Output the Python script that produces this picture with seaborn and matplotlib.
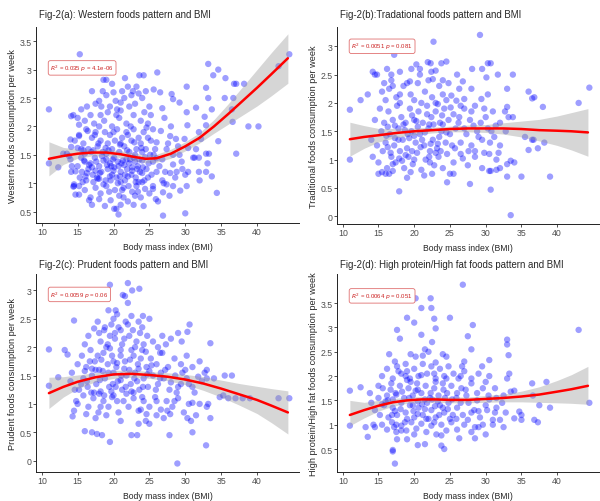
import matplotlib
matplotlib.use("Agg")
import matplotlib.pyplot as plt
import seaborn as sns

# ---- panel (a): Western foods ----
xa = [11.0, 11.0, 15.3, 18.6, 19.0, 21.6, 23.6, 24.2, 26.1, 25.6, 33.2, 34.6, 33.9, 35.6, 30.2, 32.9, 33.2, 35.5, 36.7, 36.8,
      37.1, 38.2, 36.5, 36.6, 38.8, 40.2, 37.1, 34.4, 34.6, 44.5, 43.0, 30.0, 26.9, 20.7, 20.1, 20.4, 24.2, 26.2,
      28.1, 28.3, 26.8, 27.1, 29.2, 30.2, 30.3, 31.5, 31.9, 32.2, 29.9, 28.7, 27.9, 26.6, 26.0, 27.4, 28.3, 29.2, 30.4, 31.5,
      31.9, 31.1, 29.5, 28.3, 27.2, 27.9, 28.8, 30.0, 30.4, 31.9, 32.9, 33.1, 32.9, 33.3, 33.7, 32.0, 30.2, 29.3, 28.3, 27.4,
      26.9, 27.8, 25.9, 26.8, 26.0, 25.5, 25.3, 25.5, 25.1, 26.0, 26.8, 32.9, 32.7, 33.7, 31.3,
      15.5, 16.3, 17.0, 17.5, 18.0, 18.2, 19.0, 19.5, 20.0, 20.5, 21.0, 21.5, 22.0, 22.5, 23.0, 23.5, 24.0, 24.5, 25.0, 16.0,
      17.3, 18.7, 19.8, 20.8, 21.8, 22.8, 23.8, 24.8, 16.8, 22.2, 19.2, 20.3, 23.2, 18.5, 15.0, 21.2, 24.3,
      15.2, 15.8, 16.2, 16.5, 17.0, 17.5, 17.8, 18.2, 18.5, 18.8, 19.2, 19.5, 19.8, 20.2, 20.5, 20.8, 21.2, 21.5, 21.8, 22.2,
      22.5, 22.8, 23.2, 23.5, 23.8, 24.2, 24.5, 24.8, 16.0, 17.2, 19.0, 20.0, 21.0, 22.0, 23.0, 24.0, 25.2, 25.5, 18.0, 15.5, 14.6,
      15.0, 15.3, 15.6, 15.9, 16.2, 16.5, 16.8, 17.1, 17.4, 17.7, 18.0, 18.3, 18.6, 18.9, 19.2, 19.5, 19.8, 20.1, 20.4, 20.7,
      21.0, 21.3, 21.6, 21.9, 22.2, 22.5, 22.8, 23.1, 23.4, 23.7, 24.0, 24.3, 24.6, 24.9, 16.0, 17.0, 18.0, 19.0, 20.0, 21.0,
      22.0, 23.0, 24.0, 15.5, 17.5, 19.5, 21.5, 23.5, 16.3, 18.4, 20.6, 22.6, 24.4, 19.7, 21.8, 23.3,
      15.2, 16.0, 16.8, 17.5, 18.2, 19.0, 19.6, 20.2, 20.8, 21.4, 22.0, 22.6, 23.2, 23.8, 24.4, 17.0, 18.8, 21.0, 22.8, 25.0,
      14.5, 25.5, 13.0, 13.5, 14.0, 14.1, 14.4, 14.1, 13.8, 14.2, 14.1, 14.5, 14.4, 14.7, 15.2, 14.0, 14.7, 15.0, 15.2, 15.2, 12.3]
ya = [2.30, 1.35, 3.27, 2.82, 2.82, 2.85, 2.90, 2.90, 2.95, 2.65, 3.10, 3.00, 2.90, 2.85, 2.70, 2.68, 2.50, 2.50, 2.50, 2.75,
      2.75, 2.75, 2.30, 2.08, 2.00, 2.00, 1.52, 0.83, 1.74, 3.27, 3.06, 0.47, 0.43, 0.45, 0.55, 0.55, 0.60, 0.68,
      2.57, 2.48, 2.32, 2.15, 2.42, 2.25, 2.02, 2.33, 1.90, 1.78, 1.78, 1.78, 1.83, 1.92, 1.72, 1.60, 1.50, 1.50, 1.62, 1.60,
      1.45, 1.45, 1.38, 1.33, 1.20, 1.18, 1.20, 1.15, 1.20, 1.20, 1.20, 1.35, 1.52, 1.52, 1.12, 1.05, 0.95, 0.87, 0.95, 0.98,
      0.84, 0.78, 0.72, 1.05, 1.20, 1.38, 1.15, 0.95, 1.50, 1.44, 1.42, 2.02, 2.17, 2.30, 1.45,
      2.30, 2.35, 2.62, 2.40, 2.45, 2.20, 2.55, 2.35, 2.60, 2.30, 2.28, 2.50, 2.70, 2.55, 2.40, 2.58, 2.50, 2.62, 2.35, 2.10,
      2.05, 2.10, 2.00, 2.15, 2.05, 2.20, 2.10, 2.05, 2.20, 2.35, 2.25, 2.45, 2.70, 2.62, 2.15, 2.62, 2.25,
      1.85, 1.70, 1.95, 1.60, 1.80, 1.90, 1.65, 1.75, 1.55, 1.90, 1.70, 1.85, 1.60, 1.75, 1.95, 1.55, 1.80, 1.65, 1.90, 1.55,
      1.75, 1.95, 1.60, 1.80, 1.70, 1.90, 1.60, 1.80, 1.52, 1.58, 1.52, 1.90, 1.70, 1.85, 1.50, 1.55, 1.75, 1.95, 2.00, 1.60, 1.75,
      1.30, 1.10, 1.20, 1.40, 1.05, 1.25, 1.35, 1.15, 1.45, 1.10, 1.30, 1.20, 1.40, 1.05, 1.25, 1.35, 1.15, 1.45, 1.10, 1.30,
      1.20, 1.40, 1.05, 1.25, 1.35, 1.15, 1.45, 1.10, 1.30, 1.20, 1.40, 1.05, 1.25, 1.35, 1.38, 1.28, 1.08, 1.42, 1.22, 1.02,
      1.12, 1.38, 1.18, 1.45, 1.22, 1.12, 1.32, 1.02, 1.18, 1.48, 1.38, 1.28, 1.46, 1.30, 1.42, 1.25,
      0.95, 0.88, 0.75, 0.92, 0.82, 0.95, 0.70, 0.88, 0.78, 0.92, 0.68, 0.85, 0.95, 0.75, 0.90, 0.62, 0.60, 0.62, 0.62, 0.82,
      0.95, 0.90, 1.52, 1.52, 1.77, 2.18, 2.20, 1.64, 1.48, 1.30, 1.20, 0.98, 0.94, 0.80, 0.80, 1.42, 1.21, 1.62, 1.83, 2.03, 1.28]
xa_more = [16.1, 16.6, 17.2, 17.6, 18.1, 18.6, 19.1, 19.6, 20.1, 20.6, 21.1, 21.6, 22.1, 22.6, 23.1, 23.6, 24.1, 16.9, 17.9, 18.9,
           19.9, 20.9, 21.9, 22.9, 23.9, 15.7, 19.4, 21.2, 23.4, 17.4, 20.4, 22.4, 18.3, 16.4, 24.6, 25.8, 26.4, 27.0, 27.6, 28.6,
           29.6, 29.0, 28.0, 26.5, 25.2, 19.8, 21.0, 22.7, 17.8, 20.9, 22.3, 19.3, 15.8, 16.6, 24.8, 21.4, 18.0, 23.0, 24.0, 25.6]
ya_more = [1.12, 1.32, 1.02, 1.38, 1.18, 0.98, 1.32, 1.05, 1.28, 1.00, 1.35, 1.15, 0.95, 1.22, 1.02, 1.42, 1.28, 1.55, 1.70, 1.62,
           1.42, 1.68, 1.58, 1.72, 1.62, 1.02, 0.85, 0.88, 0.85, 1.85, 2.20, 2.00, 2.35, 1.92, 1.98, 1.60, 1.30, 1.00, 1.70, 1.10,
           1.25, 1.65, 2.00, 2.60, 2.20, 2.75, 2.42, 2.62, 1.08, 1.12, 1.42, 1.58, 1.58, 0.70, 1.10, 0.75, 0.72, 0.78, 1.02, 1.50]
fit_xa = [11, 13, 15, 17, 19, 21, 23, 24.5, 26, 28, 30, 32, 34, 36, 38, 40, 42, 44.3]
fit_ya = [1.43, 1.48, 1.52, 1.54, 1.54, 1.51, 1.46, 1.43, 1.44, 1.52, 1.65, 1.80, 2.00, 2.22, 2.45, 2.68, 2.92, 3.20]
lo_a = [1.13, 1.33, 1.44, 1.48, 1.48, 1.45, 1.39, 1.36, 1.37, 1.44, 1.57, 1.71, 1.88, 2.04, 2.20, 2.36, 2.54, 2.76]
hi_a = [1.73, 1.63, 1.60, 1.60, 1.60, 1.57, 1.53, 1.50, 1.51, 1.60, 1.73, 1.89, 2.12, 2.40, 2.70, 3.00, 3.30, 3.63]

# ---- panel (b): Traditional foods ----
xb = [11.0, 11.0, 12.5, 13.5, 14.2, 14.5, 17.2, 22.7, 29.2, 30.3, 30.7, 33.8, 33.0, 36.0, 36.5, 36.8, 38.0, 43.0, 44.5, 39.0,
      35.0, 33.0, 30.7, 27.8, 17.9, 33.5, 36.5, 36.7, 37.3, 36.0, 35.5, 38.2, 33.2, 33.8, 32.7, 33.0, 34.0, 33.5, 33.0, 31.5,
      30.5, 30.7, 32.0, 24.6, 25.5, 15.0, 15.5, 16.0, 16.5,
      14.8, 16.2, 16.8, 18.0, 19.4, 20.3, 20.8, 21.9, 22.3, 22.6, 23.0, 23.8, 24.5, 24.0, 26.8, 28.0, 29.5, 30.1, 30.3, 29.4,
      31.7, 28.1, 26.3, 27.0, 25.9, 25.2,
      15.5, 16.5, 17.5, 18.5, 19.5, 20.5, 21.5, 22.5, 23.5, 24.5, 16.0, 18.0, 20.0, 22.0, 24.0, 19.0, 21.0, 23.0, 17.0,
      14.5, 15.2, 15.8, 16.4, 17.0, 17.6, 18.2, 18.8, 19.4, 20.0, 20.6, 21.2, 21.8, 22.4, 23.0, 23.6, 24.2, 24.8, 25.5, 26.2,
      27.0, 27.8, 28.5, 29.3, 30.0, 31.0, 32.0, 26.5, 28.0, 17.3, 19.7, 22.1, 23.3,
      14.0, 14.8, 15.4, 16.0, 16.6, 17.2, 17.8, 18.4, 19.0, 19.6, 20.2, 20.8, 21.4, 22.0, 22.6, 23.2, 23.8, 24.4, 25.0, 25.8,
      26.5, 27.3, 28.0, 28.8, 29.5, 30.3, 31.2, 32.0, 32.8, 16.3, 18.7, 21.1, 23.5, 25.3, 20.5, 19.3, 22.3,
      14.2, 15.0, 15.6, 16.2, 16.8, 17.4, 18.0, 18.6, 19.2, 19.8, 20.4, 21.0, 21.6, 22.2, 22.8, 23.4, 24.0, 24.6, 25.5, 26.5,
      27.5, 28.5, 29.5, 30.5, 31.5, 17.0, 19.5, 22.5, 20.0, 18.3, 23.7]
yb = [1.88, 1.00, 2.05, 2.15, 2.55, 2.50, 2.85, 3.08, 3.20, 2.70, 2.70, 2.50, 2.25, 2.20, 2.08, 2.10, 1.93, 2.00, 2.27, 0.70,
      0.70, 0.70, 0.47, 0.57, 0.44, 0.02, 1.35, 1.35, 1.20, 1.17, 1.40, 1.30, 1.75, 1.75, 1.85, 1.93, 0.95, 0.98, 0.92, 0.82,
      0.80, 0.80, 0.85, 0.60, 0.75, 0.75, 0.78, 0.75, 0.75,
      2.50, 2.60, 2.40, 2.55, 2.38, 2.68, 2.60, 2.72, 2.70, 2.42, 2.57, 2.70, 2.73, 2.40, 2.38, 2.25, 2.60, 2.45, 2.15, 2.07,
      2.50, 2.60, 2.25, 2.07, 2.04, 2.13,
      2.20, 2.25, 2.10, 2.30, 2.15, 2.35, 2.20, 2.10, 2.30, 2.05, 2.05, 2.00, 2.05, 2.40, 2.15, 2.35, 2.00, 2.00, 2.30,
      1.70, 1.90, 1.65, 1.85, 1.70, 1.95, 1.75, 1.65, 1.90, 1.70, 1.85, 1.65, 1.95, 1.75, 1.85, 1.65, 1.90, 1.70, 1.80, 1.65,
      1.90, 1.70, 1.95, 1.65, 1.75, 1.85, 1.65, 1.95, 1.85, 1.60, 1.78, 1.62, 1.98,
      1.35, 1.25, 1.50, 1.30, 1.45, 1.25, 1.55, 1.35, 1.20, 1.50, 1.30, 1.45, 1.25, 1.55, 1.35, 1.20, 1.50, 1.30, 1.45, 1.55,
      1.30, 1.45, 1.25, 1.50, 1.35, 1.55, 1.40, 1.25, 1.50, 1.58, 1.52, 1.35, 1.40, 1.25, 1.58, 1.38, 1.28,
      1.05, 0.95, 1.15, 0.85, 1.05, 0.95, 1.15, 0.85, 1.05, 0.92, 1.12, 0.82, 1.00, 1.15, 0.90, 1.05, 0.85, 1.10, 0.95, 1.10,
      0.90, 1.05, 0.85, 1.10, 1.00, 0.80, 0.78, 0.75, 1.00, 0.98, 1.15]
xb_more = [16.1, 16.7, 17.3, 17.9, 18.5, 19.1, 19.7, 20.3, 20.9, 21.5, 22.1, 22.7, 23.3, 23.9, 24.5, 25.1, 25.7, 26.3, 27.0, 27.6,
           28.3, 29.0, 29.8, 30.6, 31.4, 18.0, 20.8, 22.4, 19.6, 24.8, 26.0, 16.8, 15.8, 17.8, 21.8, 23.0, 24.0, 20.0, 18.8, 22.2,
           17.0, 25.0, 21.4, 19.0, 16.3, 26.8, 28.5, 29.8, 31.8, 30.8]
yb_more = [1.42, 1.12, 1.38, 1.02, 1.62, 1.45, 1.15, 1.68, 1.22, 1.48, 1.05, 1.62, 1.28, 1.78, 1.48, 1.92, 1.20, 1.75, 1.55, 1.15,
           1.60, 1.40, 1.90, 1.30, 1.60, 2.15, 2.50, 2.55, 2.60, 2.35, 2.50, 2.50, 2.35, 1.35, 1.80, 1.12, 1.62, 1.42, 1.08, 0.95,
           0.92, 0.75, 0.72, 0.68, 1.22, 1.02, 1.15, 1.12, 1.12, 1.50]
fit_xb = [11, 13, 15, 17.5, 20, 22.5, 25, 27.5, 30, 32.5, 35, 37.5, 40, 42, 44.3]
fit_yb = [1.36, 1.40, 1.43, 1.47, 1.50, 1.52, 1.54, 1.55, 1.55, 1.55, 1.54, 1.52, 1.51, 1.50, 1.48]
lo_b = [1.06, 1.20, 1.31, 1.39, 1.44, 1.47, 1.49, 1.49, 1.48, 1.45, 1.40, 1.33, 1.25, 1.17, 1.06]
hi_b = [1.66, 1.60, 1.55, 1.55, 1.56, 1.57, 1.59, 1.61, 1.62, 1.65, 1.68, 1.71, 1.77, 1.83, 1.90]

# ---- panel (c): Prudent foods ----
xc = [11.0, 11.0, 12.3, 13.2, 13.6, 14.5, 14.2, 14.6, 14.8, 14.5, 14.3, 19.5, 22.0, 21.3, 21.6, 22.6, 23.6, 22.0, 19.3, 20.3,
      20.5, 25.0, 24.1, 23.5, 30.6, 30.3, 29.0, 29.5, 33.5, 36.5, 35.5, 34.0, 43.0, 44.5, 37.0, 36.0, 38.0, 39.0, 34.8, 35.3,
      28.9, 32.9, 19.5, 22.5, 23.3, 27.8, 17.0, 17.7, 16.0, 18.4, 33.5, 31.0, 30.8, 30.3, 33.0, 33.2, 31.5, 33.0, 33.0, 32.7,
      30.5, 31.0, 27.0, 26.0, 24.5, 25.0, 21.0, 23.5,
      16.5, 17.3, 17.8, 18.2, 18.7, 19.2, 19.7, 20.2, 20.7, 21.2, 21.7, 22.2, 22.7, 23.2, 23.7, 24.2, 24.7, 25.5, 26.2, 27.3,
      28.0, 16.0, 18.0, 20.0, 22.0, 24.0, 21.5, 19.5, 26.8,
      15.0, 15.6, 16.2, 16.8, 17.4, 18.0, 18.6, 19.2, 19.8, 20.4, 21.0, 21.6, 22.2, 22.8, 23.4, 24.0, 24.6, 25.2, 26.0, 26.8,
      27.6, 28.5, 29.4, 30.2, 31.0, 32.0, 17.0, 19.5, 21.5, 23.8, 20.0, 22.5, 18.3,
      14.0, 15.2, 15.8, 16.4, 17.0, 17.6, 18.2, 18.8, 19.4, 20.0, 20.6, 21.2, 21.8, 22.4, 23.0, 23.6, 24.2, 24.8, 25.5, 26.2,
      27.0, 27.8, 28.6, 29.4, 30.2, 31.0, 31.8, 16.0, 18.5, 21.0, 22.8, 25.0, 19.7, 23.3, 26.6, 17.3, 20.3,
      15.0, 15.8, 16.5, 17.2, 17.9, 18.6, 19.3, 20.0, 20.7, 21.4, 22.1, 22.8, 23.5, 24.2, 25.0, 25.8, 26.6, 27.4, 28.2, 29.0,
      29.8, 16.2, 19.0, 21.8, 24.6, 27.9, 18.0]
yc = [1.32, 1.96, 1.47, 1.95, 1.87, 2.47, 1.55, 1.25, 1.05, 0.88, 0.78, 3.10, 3.13, 2.92, 2.90, 3.00, 3.03, 2.78, 2.65, 2.65,
      2.58, 2.50, 2.55, 2.45, 2.40, 2.27, 2.25, 2.10, 2.07, 1.50, 1.50, 1.45, 1.10, 1.10, 1.10, 1.10, 1.10, 1.10, 1.12, 1.15,
      -0.05, 0.27, 0.33, 0.45, 0.45, 0.45, 0.50, 0.47, 0.52, 0.45, 0.75, 0.50, 0.70, 0.75, 0.95, 1.00, 0.80, 1.45, 1.60, 1.55,
      1.00, 1.02, 0.75, 0.80, 0.70, 0.65, 0.70, 0.65,
      2.20, 2.33, 2.45, 2.10, 2.30, 2.05, 2.40, 2.15, 2.35, 2.05, 2.45, 2.20, 2.30, 2.10, 2.25, 2.05, 2.20, 2.10, 2.00, 2.05,
      2.15, 2.05, 2.25, 2.50, 2.40, 2.35, 2.15, 2.20, 2.20,
      1.70, 1.85, 1.65, 1.95, 1.75, 1.60, 1.90, 1.70, 1.85, 1.65, 1.95, 1.75, 1.60, 1.85, 1.70, 1.95, 1.65, 1.80, 1.70, 1.90,
      1.65, 1.80, 1.70, 1.85, 1.65, 1.75, 1.62, 1.98, 1.62, 1.80, 1.75, 1.95, 1.78,
      1.40, 1.25, 1.45, 1.30, 1.50, 1.35, 1.22, 1.45, 1.30, 1.55, 1.40, 1.25, 1.50, 1.35, 1.55, 1.25, 1.45, 1.30, 1.50, 1.35,
      1.45, 1.25, 1.50, 1.35, 1.45, 1.30, 1.48, 1.58, 1.58, 1.42, 1.20, 1.58, 1.22, 1.40, 1.55, 1.20, 1.30,
      1.00, 1.15, 0.95, 1.10, 0.85, 1.05, 0.95, 1.15, 0.85, 1.05, 0.95, 1.10, 0.88, 1.05, 0.95, 1.12, 0.90, 1.05, 0.95, 1.10,
      0.85, 0.82, 0.80, 1.18, 0.82, 0.82, 1.18]
xc_more = [16.3, 16.9, 17.5, 18.1, 18.7, 19.3, 19.9, 20.5, 21.1, 21.7, 22.3, 22.9, 23.5, 24.1, 24.7, 25.3, 25.9, 26.5, 27.2, 28.0,
           28.8, 29.6, 30.5, 31.3, 32.3, 19.0, 21.0, 23.0, 17.8, 24.5, 20.5, 22.5, 24.0, 18.2, 26.0, 27.5, 29.0, 15.5, 16.7, 20.2,
           22.5, 21.0, 18.8, 19.8, 23.8, 26.5, 30.0, 32.0, 28.5, 17.5]
yc_more = [1.40, 1.20, 1.60, 1.42, 1.15, 1.55, 1.35, 1.72, 1.50, 1.30, 1.78, 1.45, 1.62, 1.30, 1.52, 1.68, 1.25, 1.45, 1.60, 1.38,
           1.20, 1.55, 1.35, 1.20, 1.40, 2.00, 1.85, 2.00, 1.85, 1.92, 1.05, 1.22, 1.12, 0.95, 1.05, 0.88, 1.30, 1.35, 1.75, 2.25,
           2.55, 2.30, 2.35, 1.12, 0.90, 1.90, 1.60, 1.00, 1.05, 0.75]
fit_xc = [11, 13, 15, 17.5, 20, 22.5, 25, 27.5, 30, 32.5, 35, 37.5, 40, 42, 44.3]
fit_yc = [1.19, 1.30, 1.39, 1.47, 1.52, 1.53, 1.51, 1.48, 1.43, 1.36, 1.27, 1.17, 1.07, 0.97, 0.85]
lo_c = [0.92, 1.12, 1.27, 1.39, 1.45, 1.47, 1.45, 1.41, 1.34, 1.24, 1.12, 0.98, 0.83, 0.67, 0.47]
hi_c = [1.47, 1.48, 1.51, 1.55, 1.59, 1.60, 1.57, 1.55, 1.52, 1.48, 1.42, 1.36, 1.31, 1.27, 1.23]

# ---- panel (d): High protein/High fat foods ----
xd = [11.0, 11.0, 12.5, 13.5, 13.2, 13.8, 14.0, 14.3, 14.5, 15.0, 17.3, 17.0, 17.0, 26.8, 20.2, 22.3, 21.0, 22.4, 19.0, 20.0,
      22.8, 25.0, 23.0, 17.6, 18.0, 28.2, 27.5, 33.0, 33.0, 33.2, 30.5, 27.0, 26.7, 43.0, 44.5, 38.5, 37.5, 39.0, 36.5, 36.6,
      36.8, 37.3, 34.7, 35.0, 35.0, 34.0, 32.5, 28.5, 26.3, 24.2, 23.8, 21.5, 20.5, 19.0, 33.0, 33.3, 30.5, 31.3, 34.0, 33.5,
      32.5, 31.0, 31.0, 30.2, 21.5, 22.0, 21.2, 24.0, 24.5, 19.5, 28.0, 29.5, 16.5, 17.3,
      15.5, 16.2, 17.0, 17.6, 18.2, 18.8, 19.4, 20.0, 20.6, 21.2, 21.8, 22.4, 23.0, 23.6, 24.2, 24.8, 25.5, 26.2, 27.0, 28.0,
      29.0, 19.0, 22.8,
      15.0, 15.6, 16.2, 16.8, 17.4, 18.0, 18.6, 19.2, 19.8, 20.4, 21.0, 21.6, 22.2, 22.8, 23.4, 24.0, 24.6, 25.2, 25.9, 26.6,
      27.3, 28.0, 28.8, 29.6, 30.4, 31.5, 17.0, 19.5, 21.5, 23.0, 20.2, 24.3, 18.3,
      14.5, 15.2, 15.8, 16.4, 17.0, 17.6, 18.2, 18.8, 19.4, 20.0, 20.6, 21.2, 21.8, 22.4, 23.0, 23.6, 24.2, 24.8, 25.4, 26.0,
      26.8, 27.6, 28.4, 29.2, 30.0, 31.5, 32.8, 16.0, 19.0, 22.0, 25.0, 20.5, 23.3, 17.3, 21.5,
      15.5, 16.2, 16.9, 17.5, 18.2, 18.9, 19.6, 20.3, 21.0, 21.7, 22.4, 23.1, 23.8, 24.5, 25.2, 26.0, 27.0, 28.0, 29.0, 30.0,
      17.2, 20.0, 22.8, 17.6]
yd = [1.70, 0.98, 1.77, 0.75, 0.95, 1.65, 1.45, 1.00, 0.95, 1.80, 0.20, 0.45, 0.48, 3.88, 3.60, 3.60, 3.40, 3.40, 3.20, 3.10,
      3.18, 3.20, 2.98, 2.95, 2.77, 3.05, 2.82, 2.75, 2.65, 2.43, 2.33, 2.30, 2.20, 2.95, 1.45, 1.88, 1.40, 1.35, 1.85, 1.60,
      1.10, 1.05, 1.27, 1.20, 1.10, 1.13, 0.95, 0.72, 0.72, 0.50, 0.57, 0.60, 0.58, 0.70, 1.95, 2.05, 2.00, 1.75, 1.70, 1.68,
      1.60, 1.10, 1.00, 1.30, 2.55, 2.50, 2.42, 2.45, 2.40, 2.45, 2.55, 2.20, 2.45, 2.30,
      2.00, 2.15, 1.95, 2.20, 2.05, 2.25, 1.95, 2.15, 2.00, 2.25, 2.05, 2.20, 1.95, 2.15, 2.00, 2.20, 2.05, 1.95, 2.10, 1.95,
      2.05, 2.10, 2.05,
      1.55, 1.75, 1.60, 1.85, 1.65, 1.80, 1.55, 1.75, 1.60, 1.85, 1.65, 1.80, 1.55, 1.75, 1.60, 1.85, 1.65, 1.80, 1.55, 1.75,
      1.60, 1.85, 1.65, 1.75, 1.60, 1.55, 1.52, 1.88, 1.52, 1.88, 1.70, 1.55, 1.68,
      1.30, 1.20, 1.40, 1.15, 1.35, 1.20, 1.45, 1.25, 1.40, 1.15, 1.35, 1.20, 1.45, 1.30, 1.15, 1.40, 1.25, 1.45, 1.20, 1.35,
      1.20, 1.45, 1.30, 1.15, 1.40, 1.35, 1.25, 1.48, 1.12, 1.12, 1.12, 1.48, 1.48, 1.28, 1.32,
      1.00, 0.90, 1.05, 0.85, 0.98, 0.88, 1.05, 0.92, 1.02, 0.85, 0.98, 0.80, 1.00, 0.88, 1.05, 0.90, 1.00, 0.85, 0.95, 0.80,
      0.95, 0.80, 1.05, 0.70]
xd_more = [16.3, 16.9, 17.5, 18.1, 18.7, 19.3, 19.9, 20.5, 21.1, 21.7, 22.3, 22.9, 23.5, 24.1, 24.7, 25.3, 25.9, 26.5, 27.2, 28.0,
           28.8, 29.6, 30.5, 31.3, 32.3, 19.0, 21.0, 23.0, 17.8, 24.5, 20.5, 22.5, 24.0, 18.2, 26.0, 27.5, 29.0, 15.5, 16.7, 20.2,
           22.5, 21.0, 18.8, 19.8, 23.8, 26.5, 30.0, 32.0, 28.5, 17.5]
yd_more = [1.50, 1.20, 1.62, 1.32, 1.05, 1.55, 1.28, 1.72, 1.42, 1.12, 1.65, 1.38, 1.20, 1.72, 1.32, 1.52, 1.12, 1.45, 1.72, 1.25,
           1.50, 1.00, 1.52, 1.25, 1.45, 1.92, 2.02, 2.28, 2.10, 1.95, 1.22, 1.52, 1.35, 0.88, 1.65, 1.10, 1.28, 1.42, 1.72, 2.40,
           2.70, 2.85, 2.00, 1.40, 0.78, 2.00, 1.88, 1.10, 0.95, 1.00]
fit_xd = [11, 13, 15, 17, 19, 21, 23, 25, 27.5, 30, 32.5, 35, 37.5, 40, 42, 44.3]
fit_yd = [1.20, 1.30, 1.39, 1.46, 1.50, 1.52, 1.52, 1.51, 1.51, 1.53, 1.55, 1.58, 1.62, 1.68, 1.73, 1.80]
lo_d = [0.98, 1.14, 1.28, 1.38, 1.44, 1.46, 1.46, 1.45, 1.45, 1.46, 1.47, 1.47, 1.46, 1.45, 1.44, 1.42]
hi_d = [1.50, 1.46, 1.50, 1.54, 1.56, 1.58, 1.58, 1.57, 1.57, 1.60, 1.63, 1.69, 1.78, 1.91, 2.03, 2.20]

titles = ["Fig-2(a): Western foods pattern and BMI",
          "Fig-2(b):Tradational foods pattern and BMI",
          "Fig-2(c): Prudent foods pattern and BMI",
          "Fig-2(d): High protein/High fat foods pattern and BMI"]
ylabels = ["Western foods consumption per week",
           "Traditional foods consumption per week",
           "Prudent foods consumption per week",
           "High protein/High fat foods consumption per week"]
stats = [r"$R^2$ = 0.035 $p$ = 4.1e-06",
         r"$R^2$ = 0.0051 $p$ = 0.081",
         r"$R^2$ = 0.0059 $p$ = 0.06",
         r"$R^2$ = 0.0064 $p$ = 0.051"]
yticks = [[0.5, 1, 1.5, 2, 2.5, 3, 3.5],
          [0, 0.5, 1, 1.5, 2, 2.5, 3],
          [0, 0.5, 1, 1.5, 2, 2.5, 3],
          [0.5, 1, 1.5, 2, 2.5, 3, 3.5]]
ylims = [(0.30, 3.75), (-0.136, 3.34), (-0.20, 3.29), (0.027, 4.10)]
stat_y = [3.03, 3.0, 2.93, 3.65]

panels = [(xa + xa_more, ya + ya_more, fit_xa, fit_ya, lo_a, hi_a),
          (xb + xb_more, yb + yb_more, fit_xb, fit_yb, lo_b, hi_b),
          (xc + xc_more, yc + yc_more, fit_xc, fit_yc, lo_c, hi_c),
          (xd + xd_more, yd + yd_more, fit_xd, fit_yd, lo_d, hi_d)]

sns.set_style("ticks")
plt.rcParams['font.family'] = ['Liberation Sans', 'DejaVu Sans']

fig = plt.figure(figsize=(6, 5.02), dpi=100)
W, H = 600, 502
# pixel boxes: left, right, top, bottom
boxes = [(36, 299, 28, 224), (337, 599, 28, 225), (36, 299, 275, 473), (337, 599, 275, 473)]
title_y = [15, 15, 265, 265]

for i, (px, py, fx, fy, lo, hi) in enumerate(panels):
    l, r, t, b = boxes[i]
    ax = fig.add_axes([l / W, 1 - b / H, (r - l) / W, (b - t) / H])
    sns.scatterplot(x=px, y=py, ax=ax, color="#0000FF", alpha=0.38, s=21,
                    edgecolor="none", zorder=2)
    ax.fill_between(fx, lo, hi, color="#999999", alpha=0.4, lw=0, zorder=3)
    sns.lineplot(x=fx, y=fy, ax=ax, color="#FF0000", lw=1.8, zorder=4,
                 estimator=None, sort=False)
    ax.set_xlim(9.2, 45.85)
    ax.set_ylim(*ylims[i])
    ax.set_xticks([10, 15, 20, 25, 30, 35, 40])
    ax.set_yticks(yticks[i])
    ax.set_yticklabels([f"{v:g}" for v in yticks[i]])
    ax.tick_params(labelsize=6.3, labelcolor="#4D4D4D", color="#333333",
                   length=2, width=0.6, pad=1)
    for s in ["left", "bottom"]:
        ax.spines[s].set_linewidth(0.7)
        ax.spines[s].set_color("#222222")
    sns.despine(ax=ax)
    ax.set_xlabel("Body mass index (BMI)", fontsize=6.2)
    ax.xaxis.set_label_coords(0.5, -19 / (b - t))
    ax.set_ylabel(ylabels[i], fontsize=6.6)
    ax.yaxis.set_label_coords(-0.074, 0.5)
    ax.text(11.2, stat_y[i], stats[i], ha="left", va="center", fontsize=4.3,
            color="#cc2222", zorder=5,
            bbox=dict(boxstyle="round,pad=0.35", fc="white", ec="#e07070", lw=0.6))
    fig.text((l + 3) / W, 1 - title_y[i] / H, titles[i], ha="left", va="center",
             fontsize=6.9)

fig.savefig("out.png", dpi=100)
